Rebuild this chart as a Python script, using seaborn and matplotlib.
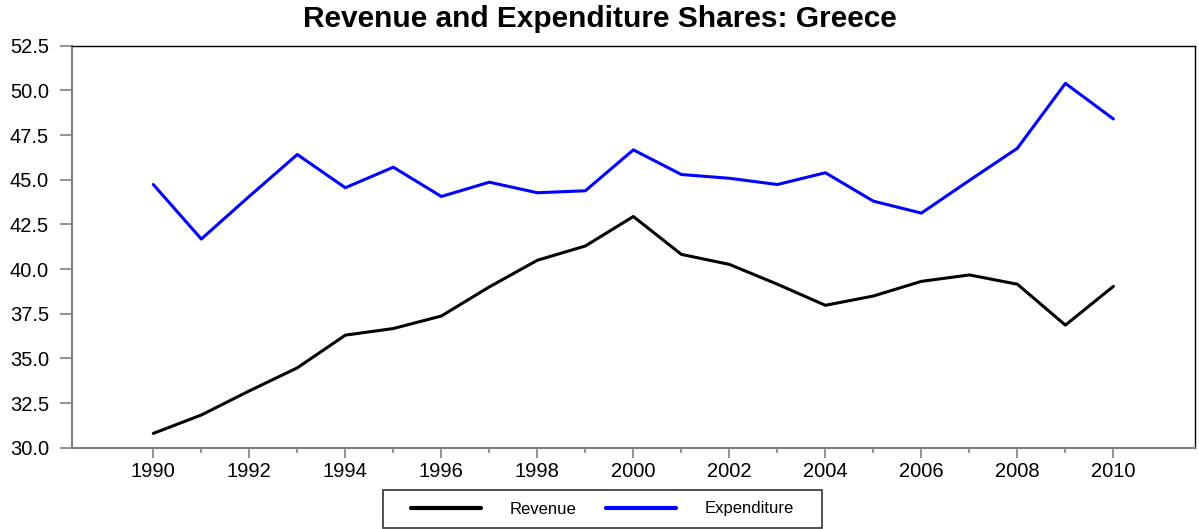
import matplotlib
matplotlib.use("Agg")
import matplotlib.pyplot as plt
from matplotlib.patches import Rectangle
from matplotlib.ticker import FormatStrFormatter, MultipleLocator, FixedLocator
import seaborn as sns
import pandas as pd

years = list(range(1990, 2011))
revenue = [30.80, 31.83, 33.18, 34.47, 36.30, 36.67, 37.37, 39.00, 40.49, 41.29,
           42.94, 40.82, 40.26, 39.15, 37.97, 38.49, 39.31, 39.67, 39.15, 36.86, 39.03]
expenditure = [44.73, 41.68, 44.07, 46.41, 44.55, 45.70, 44.06, 44.86, 44.27, 44.38,
               46.67, 45.29, 45.08, 44.73, 45.39, 43.80, 43.13, 44.96, 46.76, 50.39, 48.40]
series_names = ["Revenue", "Expenditure"]
series_colors = ["#000000", "#0000ff"]
title = "Revenue and Expenditure Shares: Greece"

df = pd.DataFrame({
    "year": years * 2,
    "value": revenue + expenditure,
    "series": [series_names[0]] * len(years) + [series_names[1]] * len(years),
})

sns.set_style("white")
plt.rcParams["font.family"] = ["Liberation Sans", "DejaVu Sans"]
plt.rcParams["text.color"] = "black"
plt.rcParams["xtick.labelcolor"] = "black"
plt.rcParams["ytick.labelcolor"] = "black"

W, H = 1199, 529
fig = plt.figure(figsize=(W / 100, H / 100), dpi=100)
ax = fig.add_axes([71.7 / W, 1 - 447.7 / H, (1195 - 71.7) / W, (447.7 - 45.7) / H])

sns.lineplot(data=df, x="year", y="value", hue="series", hue_order=series_names,
             palette=series_colors, linewidth=2.2, ax=ax, legend=True)

ax.set_xlim(1988.3, 2011.7)
ax.set_ylim(30, 52.5)
ax.xaxis.set_major_locator(FixedLocator(years[::2]))
ax.xaxis.set_minor_locator(FixedLocator(years[1::2]))
ax.yaxis.set_major_locator(MultipleLocator(2.5))
ax.yaxis.set_major_formatter(FormatStrFormatter("%.1f"))
ax.set_xlabel("")
ax.set_ylabel("")

gray = "#808080"
for s in ["left", "bottom"]:
    ax.spines[s].set_color(gray)
    ax.spines[s].set_linewidth(1.5)
for s in ["top", "right"]:
    ax.spines[s].set_color("#000000")
    ax.spines[s].set_linewidth(1.0)
    ax.spines[s].set_visible(True)

ax.tick_params(axis="x", which="major", direction="out", length=7.2, width=1.2,
               color=gray, labelsize=14.5, pad=3, bottom=True, labelcolor="black")
ax.tick_params(axis="x", which="minor", direction="out", length=3.6, width=1.2,
               color=gray, bottom=True)
ax.tick_params(axis="y", which="major", direction="out", length=8.4, width=1.2,
               color=gray, labelsize=14.5, pad=8, left=True, labelcolor="black")
ax.grid(False)

fig.text(0.5, 1 - 19 / H, title, ha="center", va="center",
         fontsize=21.5, fontweight="bold", color="black")

ax.legend_.remove()
handles, labels = ax.get_legend_handles_labels()
leg = fig.legend(handles, labels, ncol=2, loc="center",
                 bbox_to_anchor=(602.5 / W, 1 - 509 / H),
                 bbox_transform=fig.transFigure, frameon=False, fontsize=12,
                 borderpad=0, handlelength=4.2, handletextpad=1.75,
                 columnspacing=1.75, labelcolor="black")
for line in leg.get_lines():
    line.set_linewidth(3.0)

fig.patches.append(Rectangle((383 / W, 1 - 528 / H), (821.7 - 383) / W, 38 / H,
                             transform=fig.transFigure, fill=False,
                             edgecolor="#333333", linewidth=1.2))

fig.savefig("out.png", dpi=100)
